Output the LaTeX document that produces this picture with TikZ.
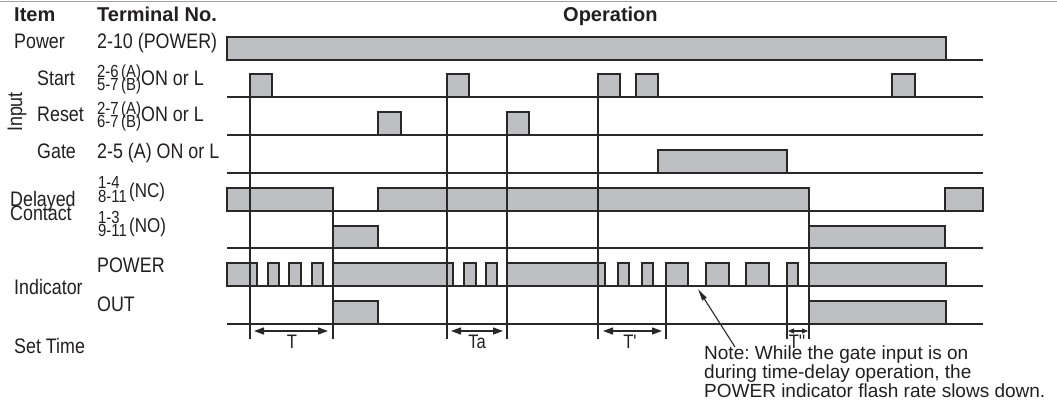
\documentclass[tikz,border=0pt]{standalone}
\usepackage{fontspec}
\setmainfont{Liberation Sans}
\newfontfamily\lblfont{Liberation Sans}[FakeStretch=0.85]
\usetikzlibrary{arrows.meta}
\definecolor{boxg}{RGB}{190,191,195}
\definecolor{linec}{RGB}{40,40,40}
\definecolor{txtc}{RGB}{35,31,32}
\definecolor{rulec}{RGB}{160,160,160}
\frenchspacing
\begin{document}
\begin{tikzpicture}[x=1pt,y=-1pt,
  lab/.style={anchor=base west,inner sep=0pt,text=txtc,font=\lblfont\fontsize{21}{21}\selectfont},
  mid/.style={anchor=base west,inner sep=0pt,text=txtc,font=\lblfont\fontsize{20}{20}\selectfont},
  sm/.style={anchor=base west,inner sep=0pt,text=txtc,font=\lblfont\fontsize{17.5}{17.5}\selectfont},
  hd/.style={anchor=base west,inner sep=0pt,text=txtc,font=\bfseries\fontsize{20}{20}\selectfont},
  tlab/.style={anchor=base,inner sep=0pt,text=txtc,font=\lblfont\fontsize{19.5}{19.5}\selectfont},
  wline/.style={draw=linec,line width=1.4pt},
  pulse/.style={draw=linec,fill=boxg,line width=1.5pt},
  tmark/.style={draw=linec,line width=1.3pt},
  dimarrow/.style={draw=linec,line width=1.3pt,{Triangle[length=10pt,width=7pt]}-{Triangle[length=10pt,width=7pt]}},
  smalldim/.style={draw=linec,line width=1.1pt,{Triangle[length=6pt,width=5pt]}-{Triangle[length=6pt,width=5pt]}}
]
\useasboundingbox[fill=white] (0,0) rectangle (1057,402);
\draw[rulec,line width=1.5pt] (0,1.5) -- (1057,1.5);

% headers
\node[hd] (hItem) at (14,21) {Item};
\node[hd] (hTerm) at (97,21) {Terminal No.};
\node[hd] (hOp) at (563,21) {Operation};

% left labels
\node[lab] (lPower) at (14,48) {Power};
\node[lab] (tPower) at (97,48) {2-10 (POWER)};
\node[lab] (lStart) at (37,85) {Start};
\node[sm] (s26) at (97,77) {2-6};
\node[sm] (s57) at (97,90) {5-7};
\node[sm] (sA1) at (121,77) {(A)};
\node[sm] (sB1) at (121,90) {(B)};
\node[lab] (on1) at (141,85) {ON or L};
\node[lab] (lReset) at (37,121) {Reset};
\node[sm] (s27) at (97,114) {2-7};
\node[sm] (s67) at (97,127) {6-7};
\node[sm] (sA2) at (121,114) {(A)};
\node[sm] (sB2) at (121,127) {(B)};
\node[lab] (on2) at (141,121) {ON or L};
\node[lab,anchor=base,rotate=90] (lInput) at (22,112) {Input};
\node[lab] (lGate) at (37,158) {Gate};
\node[lab] (tGate) at (97,158) {2-5 (A) ON or L};
\node[lab] (lDel) at (10,206) {Delayed};
\node[lab] (lCon) at (10,220) {Contact};
\node[sm] (s14) at (98,188) {1-4};
\node[sm] (s811) at (98,202) {8-11};
\node[mid] (tNC) at (129,197) {(NC)};
\node[sm] (s13) at (98,223) {1-3};
\node[sm] (s911) at (98,236) {9-11};
\node[mid] (tNO) at (129,232) {(NO)};
\node[lab] (tPw) at (97,272) {POWER};
\node[lab] (lInd) at (14,294) {Indicator};
\node[lab] (tOut) at (97,311) {OUT};
\node[lab] (lSet) at (14,353) {Set Time};

% Power
\draw[wline] (227,60) -- (983,60);
\draw[pulse] (227,37) rectangle (946,60);
% Start
\draw[wline] (227,97) -- (983,97);
\foreach \a/\b in {250/272,447/469,598/620,636/658,892/915}
  \draw[pulse] (\a,74) rectangle (\b,97);
% Reset
\draw[wline] (227,135) -- (983,135);
\foreach \a/\b in {378/401,507/529}
  \draw[pulse] (\a,112) rectangle (\b,135);
% Gate
\draw[wline] (227,173) -- (983,173);
\draw[pulse] (658,150) rectangle (787,173);
% NC
\draw[wline] (227,211) -- (983,211);
\foreach \a/\b in {227/333,378/809,945/983}
  \draw[pulse] (\a,188) rectangle (\b,211);
% NO
\draw[wline] (227,248) -- (983,248);
\foreach \a/\b in {333/378,809/945}
  \draw[pulse] (\a,226) rectangle (\b,248);
% POWER indicator
\draw[wline] (227,286) -- (983,286);
\foreach \a/\b in {227/257,268/279,289/301,312/323,333/453,464/476,486/497,507/605,618/629,642/653,666/688,706/729,746/769,787/798,809/946}
  \draw[pulse] (\a,263) rectangle (\b,286);
% OUT indicator
\draw[wline] (227,324) -- (983,324);
\foreach \a/\b in {333/378,809/946}
  \draw[pulse] (\a,301) rectangle (\b,324);

% time marker lines
\foreach \x/\t in {250/74,333/188,447/74,507/112,598/74,666/263,787/263,809/188}
  \draw[tmark] (\x,\t) -- (\x,339);

% set time dimensions
\coordinate (m1) at (250,331);
\coordinate (m2) at (333,331);
\coordinate (m3) at (447,331);
\coordinate (m4) at (507,331);
\coordinate (m5) at (598,331);
\coordinate (m6) at (666,331);
\coordinate (m7) at (787,331);
\coordinate (m8) at (809,331);
\draw[dimarrow] ([xshift=4pt]m1) -- ([xshift=-5pt]m2);
\draw[dimarrow] ([xshift=4pt]m3) -- ([xshift=-4pt]m4);
\draw[dimarrow] ([xshift=5pt]m5) -- ([xshift=-4pt]m6);
\draw[smalldim] ([xshift=1pt]m7) -- ([xshift=-1pt]m8);
\node[tlab] (lT) at (292,348) {T};
\node[tlab] (lTa) at (477,348) {Ta};
\node[tlab] (lT1) at (630,348) {T'};
\node[tlab] (lT2) at (797,348) {T''};

% note
\node[anchor=north west,inner sep=0pt,align=left,text=txtc,font=\fontsize{19}{16}\selectfont] (note) at (704,346)
  {Note: While the gate input is on\\during time-delay operation, the\\POWER indicator flash rate slows down.};
\coordinate (ntail) at (735,347);
\coordinate (ntip) at (698,289);
\draw[linec,line width=1.1pt,-{Triangle[length=12pt,width=5pt]}] (ntail) -- (ntip);
\end{tikzpicture}
\end{document}
